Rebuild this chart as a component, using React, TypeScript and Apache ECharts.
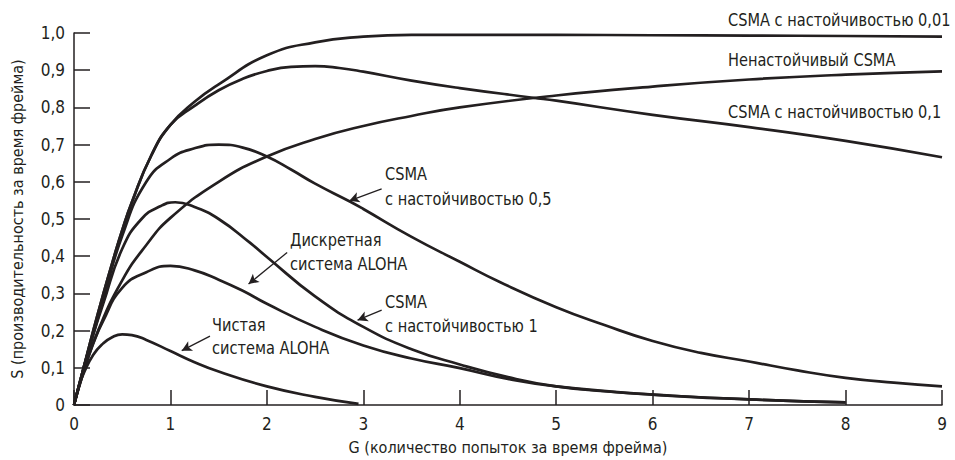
import React, { useEffect, useRef } from "react";
import * as echarts from "echarts";

// --- Data (G = offered load, S = throughput) ---
const xTicks = [0, 1, 2, 3, 4, 5, 6, 7, 8, 9];
const yTicks = [0, 0.1, 0.2, 0.3, 0.4, 0.5, 0.6, 0.7, 0.8, 0.9, 1.0];

const gP001 = [0, 0.1, 0.2, 0.3, 0.4, 0.5, 0.6, 0.8, 1.0, 1.25, 1.5, 2.0, 2.5, 3.0, 3.5, 4, 5, 6, 7, 8, 9];
const sP001 = [0, 0.1, 0.2, 0.295, 0.385, 0.47, 0.545, 0.67, 0.753, 0.815, 0.862, 0.94, 0.975, 0.99, 0.995, 0.995, 0.995, 0.994, 0.993, 0.992, 0.99];

const gNonP = [0, 0.1, 0.25, 0.5, 0.75, 1.0, 1.5, 2.0, 2.5, 3.0, 3.5, 4, 5, 6, 7, 8, 9];
const sNonP = [0, 0.09, 0.2, 0.335, 0.43, 0.503, 0.6, 0.668, 0.715, 0.75, 0.777, 0.8, 0.832, 0.856, 0.875, 0.888, 0.897];

const gP01 = [0, 0.1, 0.2, 0.3, 0.4, 0.5, 0.6, 0.8, 1.0, 1.25, 1.5, 1.75, 2.0, 2.25, 2.5, 2.75, 3.0, 3.5, 4, 4.76, 5, 6, 7, 8, 9];
const sP01 = [0, 0.1, 0.2, 0.295, 0.385, 0.47, 0.545, 0.67, 0.753, 0.804, 0.846, 0.877, 0.898, 0.909, 0.911, 0.906, 0.896, 0.872, 0.852, 0.826, 0.818, 0.78, 0.747, 0.71, 0.666];

const gP05 = [0, 0.1, 0.2, 0.3, 0.5, 0.75, 1.0, 1.25, 1.5, 1.75, 2.0, 2.25, 2.5, 2.86, 3.0, 3.5, 4.0, 4.42, 5.0, 5.5, 6.0, 6.5, 7.0, 7.5, 8.0, 8.5, 9.0];
const sP05 = [0, 0.1, 0.19, 0.28, 0.455, 0.6, 0.662, 0.69, 0.70, 0.692, 0.668, 0.633, 0.595, 0.547, 0.527, 0.452, 0.385, 0.33, 0.263, 0.215, 0.172, 0.14, 0.117, 0.093, 0.073, 0.06, 0.05];

const gP1 = [0, 0.1, 0.2, 0.3, 0.5, 0.7, 0.9, 1.05, 1.25, 1.5, 1.83, 2.0, 2.5, 3.0, 3.5, 4.0, 4.5, 5.0, 5.5, 6.0, 7.0, 8.0];
const sP1 = [0, 0.1, 0.19, 0.27, 0.42, 0.5, 0.535, 0.545, 0.532, 0.50, 0.435, 0.398, 0.292, 0.21, 0.15, 0.109, 0.075, 0.05, 0.037, 0.028, 0.015, 0.007];

const gSlotted = [0, 0.1, 0.2, 0.3, 0.5, 0.75, 1.0, 1.25, 1.5, 1.75, 2.0, 2.5, 3.0, 3.5, 4.0, 4.5, 5.0, 6.0, 7.0, 8.0];
const sSlotted = [0, 0.09, 0.165, 0.225, 0.315, 0.357, 0.374, 0.362, 0.337, 0.307, 0.272, 0.21, 0.16, 0.125, 0.099, 0.07, 0.05, 0.028, 0.015, 0.007];

const gPure = [0, 0.05, 0.1, 0.2, 0.3, 0.4, 0.5, 0.6, 0.75, 1.0, 1.25, 1.5, 2.0, 2.5, 2.95];
const sPure = [0, 0.05, 0.085, 0.135, 0.165, 0.183, 0.19, 0.188, 0.175, 0.145, 0.115, 0.09, 0.05, 0.022, 0.003];

// Arrows: [fromG, fromS, toG, toS]
const arrows = [
  [3.19, 0.581, 2.855, 0.549],
  [2.21, 0.41, 1.81, 0.325],
  [3.19, 0.255, 2.94, 0.228],
  [1.41, 0.185, 1.117, 0.146],
];

const zip = (g: number[], s: number[]) => g.map((v, i) => [v, s[i]]);

const FONT = "'DejaVu Sans Condensed', 'Liberation Sans Narrow', 'DejaVu Sans', sans-serif";
const INK = "#231f20";

export default function App() {
  const ref = useRef<HTMLDivElement>(null);
  useEffect(() => {
    document.body.style.margin = "0";
    if (!ref.current) return;
    const chart = echarts.init(ref.current, undefined, { renderer: "svg" });

    const lineSeries = (name: string, g: number[], s: number[], extra: any = {}) => ({
      name,
      type: "line",
      data: zip(g, s),
      showSymbol: false,
      symbol: "none",
      smooth: 0.5,
      lineStyle: { color: INK, width: 2.7 },
      silent: true,
      z: 3,
      ...extra,
    });

    const textEl = (text: string, x: number, y: number) => ({
      type: "text",
      x,
      y,
      scaleX: 0.9,
      style: {
        text,
        fill: INK,
        font: `18px ${FONT}`,
        textAlign: "left",
        textVerticalAlign: "middle",
      },
    });

    chart.setOption({
      animation: false,
      textStyle: { fontFamily: FONT },
      grid: { left: 74, top: 33, width: 868, height: 376, containLabel: false },
      xAxis: {
        type: "value",
        min: xTicks[0],
        max: xTicks[xTicks.length - 1],
        interval: 1,
        name: "G (количество попыток за время фрейма)",
        nameLocation: "middle",
        nameGap: 42,
        nameTextStyle: { color: INK, fontSize: 16, fontFamily: FONT, verticalAlign: "middle" },
        axisLine: { show: true, lineStyle: { color: INK, width: 1.5 } },
        axisTick: { show: true, inside: true, length: 15, lineStyle: { color: INK, width: 1.5 } },
        axisLabel: { color: INK, fontSize: 17, fontFamily: FONT, margin: 10 },
        splitLine: { show: false },
      },
      yAxis: {
        type: "value",
        min: yTicks[0],
        max: yTicks[yTicks.length - 1],
        interval: 0.1,
        name: "S (производительность за время фрейма)",
        nameLocation: "middle",
        nameGap: 57,
        nameTextStyle: { color: INK, fontSize: 16, fontFamily: FONT, verticalAlign: "middle" },
        axisLine: { show: true, lineStyle: { color: INK, width: 1.5 } },
        axisTick: { show: true, inside: true, length: 16, lineStyle: { color: INK, width: 1.5 } },
        axisLabel: {
          color: INK,
          fontSize: 17,
          fontFamily: FONT,
          margin: 9,
          formatter: (v: number) => (Math.abs(v) < 1e-9 ? "0" : v.toFixed(1).replace(".", ",")),
        },
        splitLine: { show: false },
      },
      series: [
        lineSeries("CSMA 0,01", gP001, sP001),
        lineSeries("Nonpersistent", gNonP, sNonP),
        lineSeries("CSMA 0,1", gP01, sP01),
        lineSeries("CSMA 0,5", gP05, sP05),
        lineSeries("CSMA 1", gP1, sP1),
        lineSeries("Slotted ALOHA", gSlotted, sSlotted),
        lineSeries("Pure ALOHA", gPure, sPure, {
          markLine: {
            silent: true,
            symbol: ["none", "arrow"],
            symbolSize: [8, 10],
            label: { show: false },
            lineStyle: { color: INK, width: 1.3, type: "solid" },
            data: arrows.map((a) => [{ coord: [a[0], a[1]] }, { coord: [a[2], a[3]] }]),
          },
        }),
      ],
      graphic: [
        textEl("CSMA с настойчивостью 0,01", 728, 20),
        textEl("Ненастойчивый CSMA", 728, 60),
        textEl("CSMA с настойчивостью 0,1", 728, 112),
        textEl("CSMA", 385, 174),
        textEl("с настойчивостью 0,5", 385, 199),
        textEl("Дискретная", 290, 240),
        textEl("система ALOHA", 290, 264),
        textEl("CSMA", 385, 302),
        textEl("с настойчивостью 1", 385, 326),
        textEl("Чистая", 212, 325),
        textEl("система ALOHA", 212, 348),
      ],
    });
    return () => chart.dispose();
  }, []);
  return <div ref={ref} style={{ width: 955, height: 460 }} />;
}
